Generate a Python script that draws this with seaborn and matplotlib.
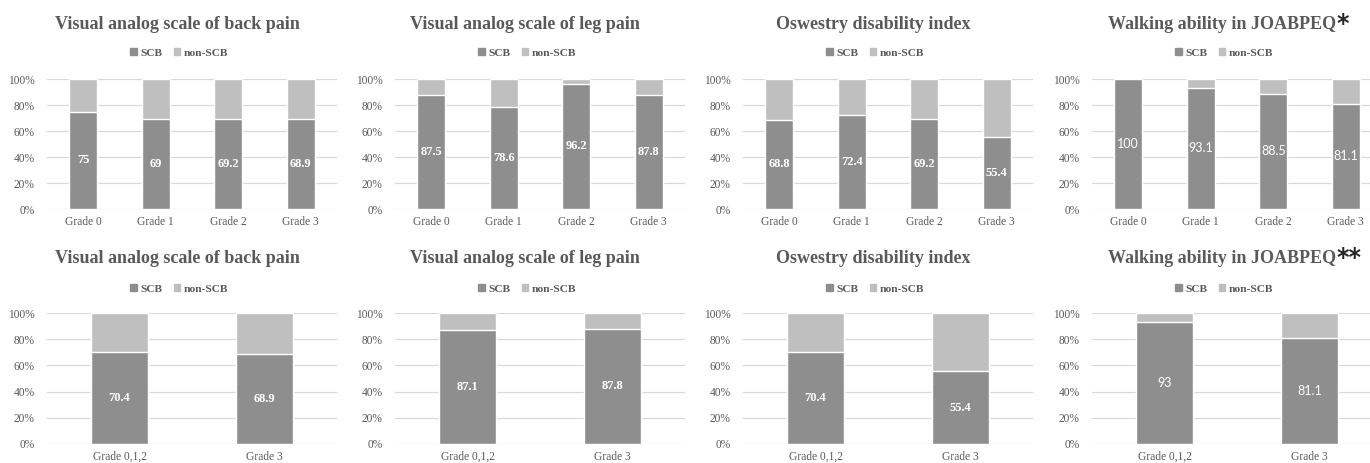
import matplotlib
matplotlib.use("Agg")
import matplotlib.pyplot as plt
import matplotlib.patches as mpatches
from matplotlib.ticker import FixedLocator
import seaborn as sns

# Share of SCB patients (%) per grade; the remainder is non-SCB
titles = [
    "Visual analog scale of back pain",
    "Visual analog scale of leg pain",
    "Oswestry disability index",
    "Walking ability in JOABPEQ",
]
marks_top = ["", "", "", "*"]
marks_bottom = ["", "", "", "**"]

grades_top = ["Grade 0", "Grade 1", "Grade 2", "Grade 3"]
grades_bottom = ["Grade 0,1,2", "Grade 3"]

back_pain_top = [75, 69, 69.2, 68.9]
leg_pain_top = [87.5, 78.6, 96.2, 87.8]
odi_top = [68.8, 72.4, 69.2, 55.4]
walking_top = [100, 93.1, 88.5, 81.1]

back_pain_bottom = [70.4, 68.9]
leg_pain_bottom = [87.1, 87.8]
odi_bottom = [70.4, 55.4]
walking_bottom = [93, 81.1]

yticks = [0, 20, 40, 60, 80, 100]
ytick_labels = ["0%", "20%", "40%", "60%", "80%", "100%"]
legend_labels = ["SCB", "non-SCB"]

SCB_COLOR = "#8e8e8e"
NON_COLOR = "#bfbfbf"
GRID_COLOR = "#d9d9d9"
TEXT_COLOR = "#595959"
SERIF = "Liberation Serif"

sns.set_theme(style="white")
plt.rcParams["font.family"] = [SERIF, "DejaVu Serif"]

W, H = 1370, 463
fig = plt.figure(figsize=(W / 100, H / 100), dpi=100)

lefts = [47, 395, 743, 1092]
panel_w = 290
rows = [
    dict(top=79, bottom=209, title_base=29, legend_y=53, cats=grades_top,
         data=[back_pain_top, leg_pain_top, odi_top, walking_top], marks=marks_top),
    dict(top=313, bottom=444, title_base=263, legend_y=289, cats=grades_bottom,
         data=[back_pain_bottom, leg_pain_bottom, odi_bottom, walking_bottom], marks=marks_bottom),
]


def fx(px):
    return px / W


def fy(py):
    return 1 - py / H


title_texts = []
for row in rows:
    for i, (left, vals) in enumerate(zip(lefts, row["data"])):
        ax = fig.add_axes([fx(left), fy(row["bottom"]), fx(panel_w),
                           (row["bottom"] - row["top"]) / H])
        cats = row["cats"]
        sns.barplot(x=cats, y=[100] * len(cats), color=NON_COLOR, saturation=1,
                    width=0.39, ax=ax, zorder=3)
        sns.barplot(x=cats, y=vals, color=SCB_COLOR, saturation=1,
                    width=0.39, ax=ax, zorder=3)
        ax.set_ylim(0, 100)
        ax.set_xlim(-0.5, len(cats) - 0.5)
        ax.yaxis.set_major_locator(FixedLocator(yticks))
        ax.set_yticklabels(ytick_labels)
        ax.set_xlabel("")
        ax.set_ylabel("")
        ax.grid(axis="y", color=GRID_COLOR, linewidth=0.9, zorder=0)
        ax.set_axisbelow(True)
        for sp in ax.spines.values():
            sp.set_visible(False)
        ax.tick_params(axis="both", length=0, labelsize=8.3, colors=TEXT_COLOR)
        ax.tick_params(axis="y", pad=9)
        ax.tick_params(axis="x", pad=11.5)
        for lab in ax.get_xticklabels():
            lab.set_verticalalignment("baseline")
        for lab in ax.get_xticklabels() + ax.get_yticklabels():
            lab.set_family(SERIF)

        labels = [f"{v:g}" for v in vals]
        if i == 3:
            ax.bar_label(ax.containers[1], labels=labels, label_type="center",
                         color="white", fontsize=9, family="Lato")
        else:
            ax.bar_label(ax.containers[1], labels=labels, label_type="center",
                         color="white", fontsize=9, fontweight="bold", family=SERIF)

        cx = left + panel_w / 2 - 15
        t = fig.text(fx(cx), fy(row["title_base"]), titles[i], ha="center",
                     va="baseline", fontsize=13, fontweight="bold",
                     color=TEXT_COLOR, family=SERIF)
        title_texts.append((t, row["marks"][i]))

        handles = [mpatches.Patch(color=SCB_COLOR), mpatches.Patch(color=NON_COLOR)]
        fig.legend(handles, legend_labels, loc="center",
                   bbox_to_anchor=(fx(cx + 2), fy(row["legend_y"])), ncol=2,
                   frameon=False, handlelength=0.55, handleheight=0.55,
                   handletextpad=0.3, columnspacing=1.0,
                   prop=dict(family=SERIF, weight="bold", size=8.2),
                   labelcolor=TEXT_COLOR)

# Significance markers appended to the end of titles
fig.canvas.draw()
renderer = fig.canvas.get_renderer()
for t, mark in title_texts:
    if not mark:
        continue
    bb = t.get_window_extent(renderer)
    fig.text(bb.x1 / W + 0.0005, bb.y1 / H + 0.008, mark, ha="left", va="top",
             fontsize=17, fontweight="bold", color="#262626", family="DejaVu Sans")

fig.savefig("out.png", dpi=100)
